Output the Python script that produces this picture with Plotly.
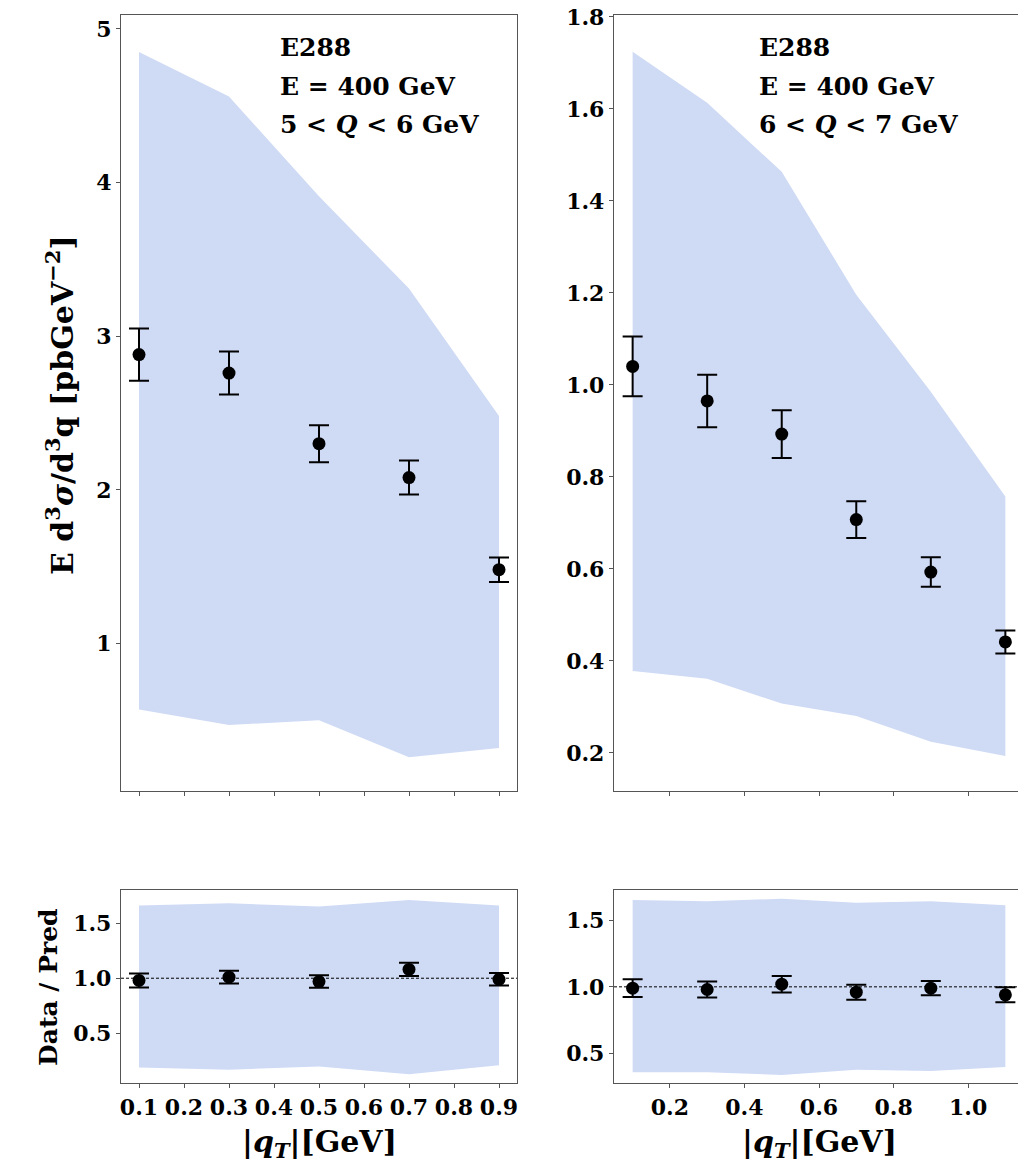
import plotly.graph_objects as go
from plotly.subplots import make_subplots

# ---------------- data ----------------
qT_a = [0.1, 0.3, 0.5, 0.7, 0.9]
xsec_a = [2.88, 2.76, 2.30, 2.08, 1.48]
xsec_err_a = [0.17, 0.14, 0.12, 0.11, 0.08]
band_lo_a = [0.57, 0.47, 0.50, 0.26, 0.32]
band_hi_a = [4.85, 4.56, 3.91, 3.31, 2.48]
ratio_a = [0.98, 1.01, 0.97, 1.08, 0.99]
ratio_err_a = [0.063, 0.057, 0.057, 0.060, 0.057]
ratio_lo_a = [0.19, 0.17, 0.20, 0.13, 0.21]
ratio_hi_a = [1.66, 1.68, 1.65, 1.71, 1.66]

qT_b = [0.1, 0.3, 0.5, 0.7, 0.9, 1.1]
xsec_b = [1.04, 0.965, 0.893, 0.707, 0.593, 0.441]
xsec_err_b = [0.065, 0.057, 0.052, 0.040, 0.032, 0.025]
band_lo_b = [0.378, 0.361, 0.307, 0.280, 0.224, 0.193]
band_hi_b = [1.724, 1.613, 1.463, 1.196, 0.985, 0.757]
ratio_b = [0.99, 0.98, 1.02, 0.96, 0.99, 0.94]
ratio_err_b = [0.067, 0.060, 0.062, 0.056, 0.053, 0.056]
ratio_lo_b = [0.36, 0.36, 0.34, 0.38, 0.37, 0.40]
ratio_hi_b = [1.65, 1.64, 1.66, 1.63, 1.64, 1.61]

labels_a = ["E288", "E = 400 GeV", "5 < <i>Q</i> < 6 GeV"]
labels_b = ["E288", "E = 400 GeV", "6 < <i>Q</i> < 7 GeV"]

xticks_a = [0.1, 0.2, 0.3, 0.4, 0.5, 0.6, 0.7, 0.8, 0.9]
xticks_b = [0.2, 0.4, 0.6, 0.8, 1.0]
yticks_top_a = [1, 2, 3, 4, 5]
yticks_top_b = [0.2, 0.4, 0.6, 0.8, 1.0, 1.2, 1.4, 1.6, 1.8]
yticks_ratio = [0.5, 1.0, 1.5]

# ---------------- style ----------------
BAND = "rgb(207,219,245)"
FONT = "DejaVu Serif"
PAGE_W, PAGE_H = 1026, 1168
OFF = 8  # default page body margin
W, H = PAGE_W - OFF, PAGE_H - OFF

fig = make_subplots(rows=2, cols=2)


def add_panel(row, col, x, y, yerr, lo, hi, cap):
    fig.add_trace(go.Scatter(x=x, y=lo, mode="lines", line=dict(width=0, color=BAND),
                             showlegend=False, hoverinfo="skip"), row=row, col=col)
    fig.add_trace(go.Scatter(x=x, y=hi, mode="lines", line=dict(width=0, color=BAND),
                             fill="tonexty", fillcolor=BAND, showlegend=False,
                             hoverinfo="skip"), row=row, col=col)
    fig.add_trace(go.Scatter(x=x, y=y, mode="markers",
                             marker=dict(color="black", size=13),
                             error_y=dict(type="data", array=yerr, color="black",
                                          thickness=2, width=cap),
                             showlegend=False), row=row, col=col)


add_panel(1, 1, qT_a, xsec_a, xsec_err_a, band_lo_a, band_hi_a, 10)
add_panel(1, 2, qT_b, xsec_b, xsec_err_b, band_lo_b, band_hi_b, 10)
add_panel(2, 1, qT_a, ratio_a, ratio_err_a, ratio_lo_a, ratio_hi_a, 10)
add_panel(2, 2, qT_b, ratio_b, ratio_err_b, ratio_lo_b, ratio_hi_b, 10)

fig.add_hline(y=1.0, line=dict(color="black", width=1, dash="3px,2px"), row=2, col=1)
fig.add_hline(y=1.0, line=dict(color="black", width=1, dash="3px,2px"), row=2, col=2)


def px_x(p):
    return (p - OFF) / W


def px_y(p):
    return 1 - (p - OFF) / H


tickfont = dict(family=FONT, size=22, color="black", weight="bold")
axis_common = dict(showline=True, mirror=True, linecolor="#555", linewidth=1.3,
                   ticks="outside", ticklen=4, tickcolor="#555", tickwidth=1,
                   showgrid=False, zeroline=False, tickfont=tickfont, tickangle=0,
                   automargin=False)

dom_xa = [px_x(121), px_x(517)]
dom_xb = [px_x(614), px_x(1024)]
dom_top = [px_y(791), px_y(15)]
dom_bot = [px_y(1083), px_y(890)]

fig.update_layout(
    template="none",
    xaxis=dict(domain=dom_xa, range=[0.06, 0.94], tickvals=xticks_a,
               showticklabels=False, **axis_common),
    xaxis2=dict(domain=dom_xb, range=[0.05, 1.15], tickvals=xticks_b,
                showticklabels=False, **axis_common),
    xaxis3=dict(domain=dom_xa, range=[0.06, 0.94], tickvals=xticks_a,
                ticktext=[f"{v:.1f}" for v in xticks_a], **axis_common),
    xaxis4=dict(domain=dom_xb, range=[0.05, 1.15], tickvals=xticks_b,
                ticktext=[f"{v:.1f}" for v in xticks_b], **axis_common),
    yaxis=dict(domain=dom_top, range=[0.04, 5.09], tickvals=yticks_top_a,
               ticktext=[str(v) for v in yticks_top_a], **axis_common),
    yaxis2=dict(domain=dom_top, range=[0.117, 1.804], tickvals=yticks_top_b,
                ticktext=[f"{v:.1f}" for v in yticks_top_b], **axis_common),
    yaxis3=dict(domain=dom_bot, range=[0.05, 1.80], tickvals=yticks_ratio,
                ticktext=[f"{v:.1f}" for v in yticks_ratio], **axis_common),
    yaxis4=dict(domain=dom_bot, range=[0.28, 1.725], tickvals=yticks_ratio,
                ticktext=[f"{v:.1f}" for v in yticks_ratio], **axis_common),
    width=W, height=H,
    margin=dict(l=0, r=0, t=0, b=0, pad=0),
    paper_bgcolor="white", plot_bgcolor="white",
    showlegend=False,
)

ann_font = dict(family=FONT, size=25, color="black", weight="bold")
anns = []
for i, t in enumerate(labels_a):
    anns.append(dict(text=t, x=px_x(278), y=px_y(48 + 38.5 * i), xref="paper", yref="paper",
                     xanchor="left", yanchor="middle", showarrow=False, font=ann_font))
for i, t in enumerate(labels_b):
    anns.append(dict(text=t, x=px_x(757), y=px_y(48 + 38.5 * i), xref="paper", yref="paper",
                     xanchor="left", yanchor="middle", showarrow=False, font=ann_font))

# axis titles
anns.append(dict(text="E d<sup>3</sup><i>σ</i>/d<sup>3</sup>q [pbGeV<sup>−2</sup>]",
                 x=px_x(60), y=px_y(405), xref="paper", yref="paper",
                 xanchor="center", yanchor="middle", textangle=-90, showarrow=False,
                 font=dict(family=FONT, size=30, color="black", weight="bold")))
anns.append(dict(text="Data / Pred", x=px_x(48), y=px_y(987), xref="paper", yref="paper",
                 xanchor="center", yanchor="middle", textangle=-90, showarrow=False,
                 font=dict(family=FONT, size=25, color="black", weight="bold")))
for cx in (319, 819):
    anns.append(dict(text="|<i>q<sub>T</sub></i>|[GeV]", x=px_x(cx), y=px_y(1143),
                     xref="paper", yref="paper", xanchor="center", yanchor="middle",
                     showarrow=False,
                     font=dict(family=FONT, size=30, color="black", weight="bold")))

fig.update_layout(annotations=anns)

fig.write_html("out.html")
